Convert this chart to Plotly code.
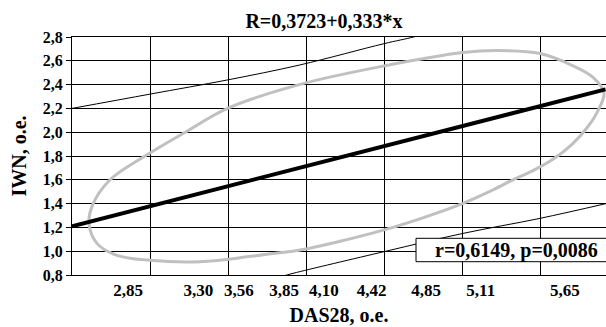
import plotly.graph_objects as go

# ---- text ----
title_text = "R=0,3723+0,333*x"
x_title = "DAS28, o.e."
y_title = "IWN, o.e."
stat_text = "r=0,6149, p=0,0086"

# ---- axes ----
x_range = [2.5, 5.923]
x_grid_start = 2.5
x_grid_step = 0.5
x_tick_labels = ["2,85", "3,30", "3,56", "3,85", "4,10", "4,42", "4,85", "5,11", "5,65"]
x_tick_pos = [2.86, 3.31, 3.57, 3.86, 4.115, 4.42, 4.77, 5.12, 5.66]
y_tick_vals = [0.8, 1.0, 1.2, 1.4, 1.6, 1.8, 2.0, 2.2, 2.4, 2.6, 2.8]
y_tick_labels = ["0,8", "1,0", "1,2", "1,4", "1,6", "1,8", "2,0", "2,2", "2,4", "2,6", "2,8"]

# ---- regression line ----
reg_x = [2.5, 5.92]
reg_y = [1.21, 2.36]

# ---- confidence band lines ----
upper_x = [2.5, 3.0, 3.5, 3.96, 4.5, 4.69, 4.8]
upper_y = [2.2, 2.32, 2.44, 2.565, 2.744, 2.8, 2.84]
lower_x = [3.85, 3.917, 4.506, 5.004, 5.5, 5.923]
lower_y = [0.79, 0.814, 0.998, 1.149, 1.276, 1.40]

# ---- ellipse outline ----
ellipse_x = [5.224, 5.5, 5.712, 5.84, 5.91, 5.872, 5.808, 5.705, 5.583, 5.455, 5.327,
             5.199, 5.006, 4.763, 4.506, 4.218, 3.962, 3.737, 3.532, 3.276, 3.0, 2.788,
             2.66, 2.609, 2.635, 2.744, 2.955, 3.224, 3.5, 3.962, 4.506, 5.006, 5.224]
ellipse_y = [2.686, 2.661, 2.558, 2.461, 2.33, 2.182, 2.048, 1.898, 1.772, 1.677, 1.6,
             1.516, 1.402, 1.287, 1.181, 1.083, 1.01, 0.973, 0.937, 0.909, 0.923, 0.965,
             1.066, 1.236, 1.397, 1.6, 1.789, 1.998, 2.202, 2.402, 2.558, 2.669, 2.686]

FONT = "Liberation Serif, Times New Roman, serif"

fig = go.Figure()
fig.add_trace(go.Scatter(x=ellipse_x, y=ellipse_y, mode="lines",
                         line=dict(color="#c0c0c0", width=3, shape="spline", smoothing=1.0),
                         hoverinfo="skip", showlegend=False))
fig.add_trace(go.Scatter(x=upper_x, y=upper_y, mode="lines",
                         line=dict(color="black", width=1, shape="spline"),
                         hoverinfo="skip", showlegend=False))
fig.add_trace(go.Scatter(x=lower_x, y=lower_y, mode="lines",
                         line=dict(color="black", width=1, shape="spline"),
                         hoverinfo="skip", showlegend=False))
fig.add_trace(go.Scatter(x=reg_x, y=reg_y, mode="lines",
                         line=dict(color="black", width=4),
                         hoverinfo="skip", showlegend=False))
fig.add_trace(go.Scatter(x=reg_x, y=reg_y, xaxis="x2", mode="lines",
                         line=dict(color="rgba(0,0,0,0)", width=0),
                         hoverinfo="skip", showlegend=False))

W, H = 606, 327
PLOT_L, PLOT_W, PLOT_H = 72, 534, 238
BOX_LEFT_PX, BOX_TOP_PX, BOX_BOTTOM_PX, TEXT_CENTER_PX = 416, 36.7, 13.3, 516  # px from plot left / bottom

fig.update_layout(
    template="none",
    width=W, height=H,
    margin=dict(l=PLOT_L, r=0, t=37, b=52, pad=0, autoexpand=False),
    paper_bgcolor="white", plot_bgcolor="white",
    font=dict(family=FONT, color="black", weight="bold"),
    title=dict(text=title_text, x=324 / W, xref="container", xanchor="center",
               y=1 - 21 / H, yref="container", yanchor="middle",
               font=dict(size=20, family=FONT, weight="bold", color="black")),
    xaxis=dict(range=x_range, tickmode="array", tickvals=x_tick_pos, ticktext=x_tick_labels,
               automargin=False,
               showgrid=False, zeroline=False, showline=True, linecolor="black", linewidth=1,
               mirror=True, ticks="", tickfont=dict(size=17, family=FONT, weight="bold"),
               title=dict(text=x_title, standoff=8,
                          font=dict(size=20, family=FONT, weight="bold"))),
    xaxis2=dict(range=x_range, overlaying="x", tickmode="linear", tick0=x_grid_start,
                automargin=False,
                dtick=x_grid_step, showgrid=True, gridcolor="black", gridwidth=1,
                showticklabels=False, ticks="", showline=False, zeroline=False),
    yaxis=dict(range=[0.8, 2.8], tickmode="array", tickvals=y_tick_vals, ticktext=y_tick_labels,
               automargin=False,
               showgrid=True, gridcolor="black", gridwidth=1, zeroline=False,
               showline=True, linecolor="black", linewidth=1,
               ticks="outside", ticklen=5, tickcolor="black", tickwidth=1,
               tickfont=dict(size=16, family=FONT, weight="bold"),
               title=dict(text=y_title, standoff=10,
                          font=dict(size=20, family=FONT, weight="bold"))),
    # statistics box frame, running off the right edge as in the original
    shapes=[dict(type="rect", xref="paper", yref="paper", layer="above",
                 x0=(BOX_LEFT_PX - PLOT_L) / PLOT_W, x1=1.15,
                 y0=BOX_BOTTOM_PX / PLOT_H, y1=BOX_TOP_PX / PLOT_H,
                 fillcolor="white", line=dict(color="black", width=1))],
    annotations=[
        dict(text=stat_text, xref="paper", yref="paper",
             x=(TEXT_CENTER_PX - PLOT_L) / PLOT_W, y=(BOX_TOP_PX + BOX_BOTTOM_PX) / 2 / PLOT_H,
             xanchor="center", yanchor="middle",
             showarrow=False, borderpad=0,
             font=dict(size=20, family=FONT, weight="bold", color="black")),
    ],
)

# remove the page's default body margin so the figure sits at the window's top-left corner
fig.write_html("out.html",
               config={"displayModeBar": False},
               post_script="document.body.style.margin='0';document.body.style.overflow='hidden';")
